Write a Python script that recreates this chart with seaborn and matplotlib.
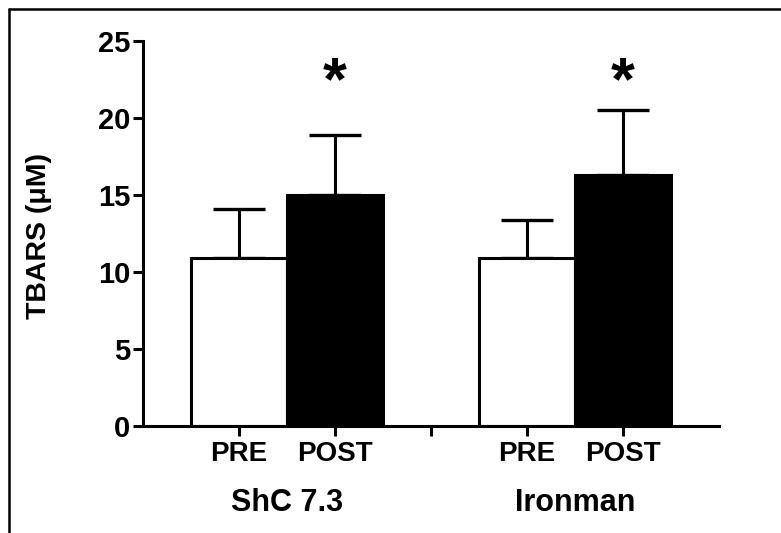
import matplotlib
matplotlib.use("Agg")
import matplotlib.pyplot as plt
from matplotlib.lines import Line2D
import matplotlib.transforms as mtransforms
import seaborn as sns
import numpy as np
import pandas as pd

# ---- data ----
groups = ["ShC 7.3", "ShC 7.3", "Ironman", "Ironman"]
conditions = ["PRE", "POST", "PRE", "POST"]
means = [10.9, 15.0, 10.9, 16.3]
sd = [3.2, 3.9, 2.5, 4.2]
group_labels = ["ShC 7.3", "Ironman"]
significant = [False, True, False, True]
ylabel = "TBARS (\u03bcM)"
yticks = [0, 5, 10, 15, 20, 25]

sns.set_theme(style="ticks")
plt.rcParams["font.family"] = ["Liberation Sans", "DejaVu Sans"]
plt.rcParams["font.weight"] = "bold"
for k in ["text.color", "axes.labelcolor", "xtick.color", "ytick.color",
          "axes.edgecolor"]:
    plt.rcParams[k] = "black"

W, H, DPI = 781, 533, 100
fig = plt.figure(figsize=(W / DPI, H / DPI), dpi=DPI)
ax = fig.add_axes([143 / W, 1 - 426 / H, (719 - 143) / W, (426 - 41) / H])

# positions: groups separated by one empty slot
gidx = [group_labels.index(g) for g in groups]
cidx = [0 if c == "PRE" else 1 for c in conditions]
pos = [3 * g + c + 1 for g, c in zip(gidx, cidx)]

df = pd.DataFrame({"pos": pos, "mean": means, "cond": conditions})

ax.errorbar(pos, means, yerr=[np.zeros(len(sd)), sd], fmt="none",
            ecolor="black", elinewidth=2.2, capsize=18.5, capthick=2.4,
            zorder=0.5)
sns.barplot(data=df, x="pos", y="mean", hue="cond", native_scale=True,
            palette={"PRE": "white", "POST": "black"}, width=1.0,
            edgecolor="black", linewidth=2.2, errorbar=None, legend=False,
            ax=ax, zorder=1)

for p, m, s, sig in zip(pos, means, sd, significant):
    if sig:
        ax.text(p, 21.2, "*", ha="center", va="baseline", fontsize=44,
                fontweight="bold", color="black")

ax.set_xlim(0, 6)
ax.set_ylim(0, 25)
ax.set_yticks(yticks)
ax.set_yticklabels([str(t) for t in yticks], fontsize=21, fontweight="bold")
ax.set_xticks([1, 2, 3, 4, 5])
ax.set_xticklabels(["PRE", "POST", "", "PRE", "POST"], fontsize=20,
                   fontweight="bold")
ax.set_xlabel("")
ax.set_ylabel(ylabel, fontsize=20.5, fontweight="bold")
ax.yaxis.set_label_coords(-0.1806, 0.4935)
ax.yaxis.label.set_verticalalignment("center")

for sp in ["top", "right"]:
    ax.spines[sp].set_visible(False)
for sp in ["left", "bottom"]:
    ax.spines[sp].set_linewidth(2.2)
    ax.spines[sp].set_color("black")
ax.tick_params(axis="both", length=7, width=2.2, color="black",
               labelcolor="black", direction="out")
ax.tick_params(axis="y", pad=2)
ax.tick_params(axis="x", pad=4)

trans = mtransforms.blended_transform_factory(ax.transData, ax.transAxes)
for i, g in enumerate(group_labels):
    ax.text(3 * i + 1.5, -0.2, g, transform=trans, ha="center", va="center",
            fontsize=22, fontweight="bold", color="black")

# outer frame (top and left edges)
fx = 8.5 / W
fy = 1 - 8.5 / H
fig.add_artist(Line2D([fx, fx], [0, fy], transform=fig.transFigure,
                      color="black", linewidth=1.8))
fig.add_artist(Line2D([fx, 1], [fy, fy], transform=fig.transFigure,
                      color="black", linewidth=1.8))

fig.savefig("out.png", dpi=DPI, facecolor="white")
